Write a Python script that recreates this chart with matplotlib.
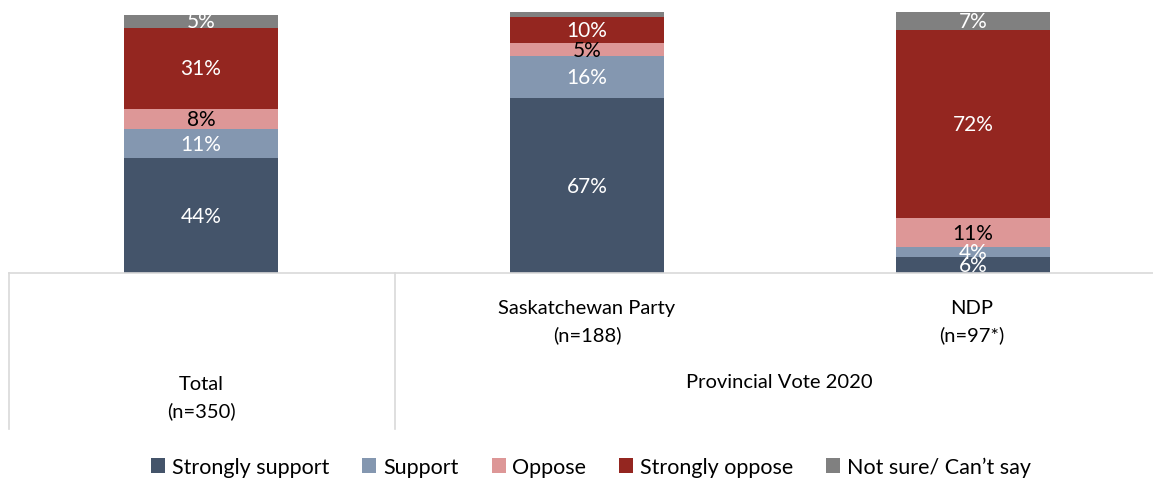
import matplotlib
matplotlib.use("Agg")
import matplotlib.pyplot as plt
from matplotlib.lines import Line2D
from matplotlib.patches import Patch

plt.rcParams['font.family'] = ['Lato', 'DejaVu Sans']

categories = ["Total\n(n=350)", "Saskatchewan Party\n(n=188)", "NDP\n(n=97*)"]
group_label = "Provincial Vote 2020"
series = ["Strongly support", "Support", "Oppose", "Strongly oppose", "Not sure/ Can\u2019t say"]
strongly_support = [44, 67, 6]
support = [11, 16, 4]
oppose = [8, 5, 11]
strongly_oppose = [31, 10, 72]
not_sure = [5, 2, 7]
show_label_min = 3

values = [strongly_support, support, oppose, strongly_oppose, not_sure]
colors = ["#44546A", "#8497B0", "#DD9797", "#942620", "#808080"]
text_colors = ["white", "white", "black", "white", "white"]

W, H = 1153, 481
fig = plt.figure(figsize=(W / 100, H / 100), dpi=100)

spacing = 386.0
x0 = -201.0 / spacing
x1 = x0 + W / spacing
ax = fig.add_axes([0, (H - 274) / H, 1, 261 / H])
ax.set_xlim(x0, x1)
ax.set_ylim(0, 100)
ax.axis('off')

xs = list(range(len(categories)))
bottoms = [0] * len(categories)
for vals, col, tcol in zip(values, colors, text_colors):
    ax.bar(xs, vals, bottom=bottoms, width=154 / spacing, color=col, clip_on=False)
    for i, v in enumerate(vals):
        if v >= show_label_min:
            ax.text(xs[i], bottoms[i] + v / 2, f"{v}%", ha='center', va='center',
                    color=tcol, fontsize=15)
    bottoms = [b + v for b, v in zip(bottoms, vals)]

# frame lines (category axis table)
lc = "#D9D9D9"
def px_line(xa, ya, xb, yb):
    fig.add_artist(Line2D([xa / W, xb / W], [1 - ya / H, 1 - yb / H], color=lc, lw=1.2,
                          transform=fig.transFigure))
px_line(9, 274, W, 274)
px_line(9, 274, 9, 430)
px_line(395, 274, 395, 430)

def px_text(x, y, s):
    fig.text(x / W, 1 - y / H, s, ha='center', va='center', fontsize=14.5,
             linespacing=1.65, color="black")

px_text(201, 398, categories[0])
px_text(587, 322, categories[1])
px_text(972, 322, categories[2])
px_text(779.5, 383, group_label)

handles = [Patch(facecolor=c, edgecolor='none') for c in colors]
fig.legend(handles, series, loc='center', bbox_to_anchor=(591 / W, 1 - 468 / H),
           ncol=5, frameon=False, fontsize=15.5, handlelength=0.65, handleheight=0.65,
           handletextpad=0.3, columnspacing=1.55)

fig.savefig("out.png", dpi=100)
